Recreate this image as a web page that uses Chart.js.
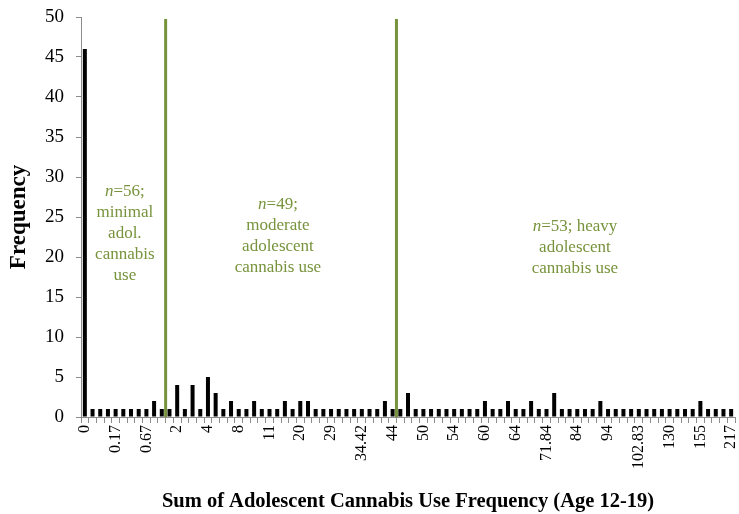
<!DOCTYPE html>
<html>
<head>
<meta charset="utf-8">
<script src="https://cdn.jsdelivr.net/npm/chart.js@4/dist/chart.umd.min.js"></script>
<style>
  html, body { margin: 0; padding: 0; background: #ffffff; }
  #wrap { width: 739px; height: 514px; }
</style>
</head>
<body>
<div id="wrap"><canvas id="chart" width="739" height="514"></canvas></div>
<script>
// Tick labels shown under every fourth category
const tickLabels = ['0', '0.17', '0.67', '2', '4', '8', '11', '20', '29', '34.42', '44',
  '50', '54', '60', '64', '71.84', '84', '94', '102.83', '130', '155', '217'];

// Number of participants at each distinct value of the summed use frequency
const frequency = [
  46, 1, 1, 1, 1, 1, 1, 1, 1, 2, 1,
  1, 4, 1, 4, 1, 5, 3, 1, 2, 1,
  1, 2, 1, 1, 1, 2, 1, 2, 2, 1,
  1, 1, 1, 1, 1, 1, 1, 1, 2, 1,
  1, 3, 1, 1, 1, 1, 1, 1, 1, 1,
  1, 2, 1, 1, 2, 1, 1, 2, 1, 1,
  3, 1, 1, 1, 1, 1, 2, 1, 1, 1,
  1, 1, 1, 1, 1, 1, 1, 1, 1, 2,
  1, 1, 1, 1
];

// Group cut points: the cut falls after these category indices
const groupCuts = [10, 40];

// Group descriptions: [centre category, first line value, lines]
const groupNotes = [
  { at: 5.2,  from: 28.2, lines: [['n', '=56;'], 'minimal', 'adol.', 'cannabis', 'use'] },
  { at: 25.1, from: 26.55, lines: [['n', '=49;'], 'moderate', 'adolescent', 'cannabis use'] },
  { at: 63.7, from: 23.8, lines: [['n', '=53; heavy'], 'adolescent', 'cannabis use'] }
];

const categories = frequency.map((_, i) => (i % 4 === 0 ? tickLabels[i / 4] : ''));

const SERIF = '"Liberation Serif", "Times New Roman", serif';
const GREEN = '#77933C';
const AXIS = '#8c8c8c';
const NOTE_SIZE = 17;

const groupPlugin = {
  id: 'groups',
  afterDatasetsDraw(chart) {
    const { ctx, scales: { x, y } } = chart;
    ctx.save();
    // vertical dividers between the three use groups
    ctx.strokeStyle = GREEN;
    ctx.lineWidth = 3;
    groupCuts.forEach(c => {
      const px = (x.getPixelForValue(c) + x.getPixelForValue(c + 1)) / 2;
      ctx.beginPath();
      ctx.moveTo(px, y.getPixelForValue(49.75));
      ctx.lineTo(px, y.getPixelForValue(0));
      ctx.stroke();
    });
    // group descriptions
    ctx.fillStyle = GREEN;
    ctx.textBaseline = 'middle';
    const lineGap = 21;
    groupNotes.forEach(g => {
      const cx = x.getPixelForValue(0) + g.at * (x.getPixelForValue(1) - x.getPixelForValue(0));
      const y0 = y.getPixelForValue(g.from);
      g.lines.forEach((ln, k) => {
        const ly = y0 + k * lineGap;
        if (Array.isArray(ln)) {
          const itFont = 'italic ' + NOTE_SIZE + 'px ' + SERIF;
          const upFont = NOTE_SIZE + 'px ' + SERIF;
          ctx.font = itFont;
          const w1 = ctx.measureText(ln[0]).width;
          ctx.font = upFont;
          const w2 = ctx.measureText(ln[1]).width;
          const sx = cx - (w1 + w2) / 2;
          ctx.textAlign = 'left';
          ctx.font = itFont;
          ctx.fillText(ln[0], sx, ly);
          ctx.font = upFont;
          ctx.fillText(ln[1], sx + w1, ly);
        } else {
          ctx.textAlign = 'center';
          ctx.font = NOTE_SIZE + 'px ' + SERIF;
          ctx.fillText(ln, cx, ly);
        }
      });
    });
    ctx.restore();
  }
};

new Chart(document.getElementById('chart'), {
  type: 'bar',
  data: {
    labels: categories,
    datasets: [{
      data: frequency,
      backgroundColor: '#000000',
      borderWidth: 0,
      categoryPercentage: 1.0,
      barPercentage: 0.52
    }]
  },
  options: {
    responsive: false,
    animation: false,
    layout: { padding: { top: 17, right: 4, left: 0, bottom: 0 } },
    plugins: { legend: { display: false }, tooltip: { enabled: false } },
    scales: {
      x: {
        type: 'category',
        offset: true,
        afterFit(s) { s.height = 97; s.paddingRight = 0; s.paddingLeft = 0; },
        border: { color: AXIS, width: 1 },
        grid: { display: true, offset: true, drawOnChartArea: false, drawTicks: true, tickLength: 6, color: AXIS },
        ticks: {
          autoSkip: false, maxRotation: 90, minRotation: 90, padding: 2,
          color: '#000', font: { family: SERIF, size: 16 }
        },
        title: {
          display: true,
          text: 'Sum of Adolescent Cannabis Use Frequency (Age 12-19)',
          color: '#000',
          font: { family: SERIF, size: 20.5, weight: 'bold' },
          padding: { top: 0, bottom: 0 }
        }
      },
      y: {
        min: 0, max: 50,
        afterFit(s) { s.width = 81; s.paddingTop = 0; s.paddingBottom = 0; },
        border: { color: AXIS, width: 1 },
        grid: { drawOnChartArea: false, drawTicks: true, tickLength: 5, color: AXIS },
        ticks: {
          stepSize: 5, padding: 12, color: '#000',
          font: { family: SERIF, size: 19 }
        },
        title: {
          display: true,
          text: 'Frequency',
          color: '#000',
          font: { family: SERIF, size: 23, weight: 'bold' },
          padding: { top: 5, bottom: 0 }
        }
      }
    }
  },
  plugins: [groupPlugin]
});
</script>
</body>
</html>
